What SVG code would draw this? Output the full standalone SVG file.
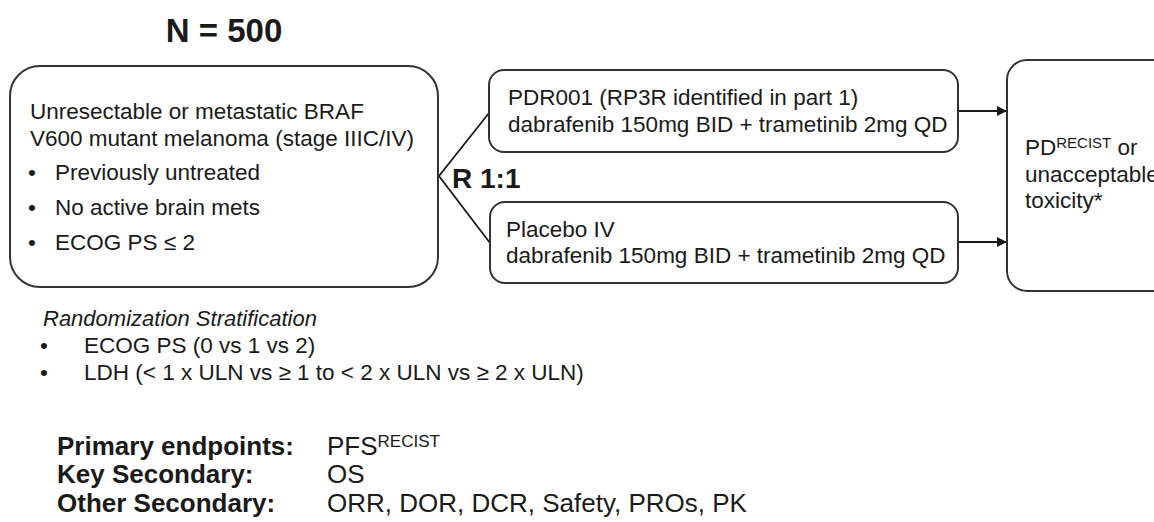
<svg xmlns="http://www.w3.org/2000/svg" width="1154" height="522" viewBox="0 0 1154 522">
<defs>
<marker id="ah" viewBox="0 0 10 10" refX="10" refY="5" markerWidth="10" markerHeight="10" markerUnits="userSpaceOnUse" orient="auto"><path d="M0,0 L10,5 L0,10 Z" fill="#1a1a1a"/></marker>
</defs>
<style>
text{font-family:"Liberation Sans",Arial,sans-serif;fill:#1a1a1a}
.t{font-size:22.5px}
.e{font-size:26px}
.b{font-weight:bold}
.box{fill:#fff;stroke:#333;stroke-width:2}
.ln{fill:none;stroke:#1a1a1a;stroke-width:1.8}
.sup{font-size:15px}
.sup2{font-size:17px}
</style>
<rect width="1154" height="522" fill="#fff"/>
<text x="224" y="42" text-anchor="middle" class="b" font-size="33">N = 500</text>
<g id="connectors">
<path class="ln" d="M489,113 L439,176 L490,243"/>
<line class="ln" x1="958" y1="111" x2="1007" y2="111" marker-end="url(#ah)"/>
<line class="ln" x1="958" y1="242" x2="1007" y2="242" marker-end="url(#ah)"/>
</g>
<g id="population">
<rect class="box" x="10" y="66" width="428" height="221" rx="30"/>
<text class="t" x="30" y="119">Unresectable or metastatic BRAF</text>
<text class="t" x="30" y="146">V600 mutant melanoma (stage IIIC/IV)</text>
<text class="t" x="28" y="180">•</text><text class="t" x="55" y="180">Previously untreated</text>
<text class="t" x="28" y="215">•</text><text class="t" x="55" y="215">No active brain mets</text>
<text class="t" x="28" y="250">•</text><text class="t" x="55" y="250">ECOG PS ≤ 2</text>
</g>
<g id="randomization">
<text x="452" y="188" class="b" font-size="28">R 1:1</text>
</g>
<g id="arm1">
<rect class="box" x="489" y="70" width="469" height="82" rx="15"/>
<text class="t" x="508" y="105">PDR001 (RP3R identified in part 1)</text>
<text class="t" x="508" y="132">dabrafenib 150mg BID + trametinib 2mg QD</text>
</g>
<g id="arm2">
<rect class="box" x="490" y="202" width="468" height="81" rx="15"/>
<text class="t" x="506" y="237">Placebo IV</text>
<text class="t" x="506" y="263">dabrafenib 150mg BID + trametinib 2mg QD</text>
</g>
<g id="endpoint">
<rect class="box" x="1007" y="60" width="170" height="231" rx="20"/>
<text class="t" x="1025" y="155">PD<tspan class="sup" dy="-7">RECIST</tspan><tspan dy="7"> or</tspan></text>
<text class="t" x="1025" y="182">unacceptable</text>
<text class="t" x="1025" y="208">toxicity*</text>
</g>
<g id="stratification">
<text x="43" y="326" font-size="22" font-style="italic">Randomization Stratification</text>
<text class="t" x="40" y="353">•</text><text class="t" x="84" y="353">ECOG PS (0 vs 1 vs 2)</text>
<text class="t" x="40" y="380">•</text><text class="t" x="84" y="380">LDH (&lt; 1 x ULN vs ≥ 1 to &lt; 2 x ULN vs ≥ 2 x ULN)</text>
</g>
<g id="endpoints">
<text class="e b" x="57" y="455">Primary endpoints:</text>
<text class="e b" x="57" y="483">Key Secondary:</text>
<text class="e b" x="57" y="512">Other Secondary:</text>
<text class="e" x="327" y="455">PFS<tspan class="sup2" dy="-8">RECIST</tspan></text>
<text class="e" x="327" y="483">OS</text>
<text class="e" x="327" y="512">ORR, DOR, DCR, Safety, PROs, PK</text>
</g>
</svg>
